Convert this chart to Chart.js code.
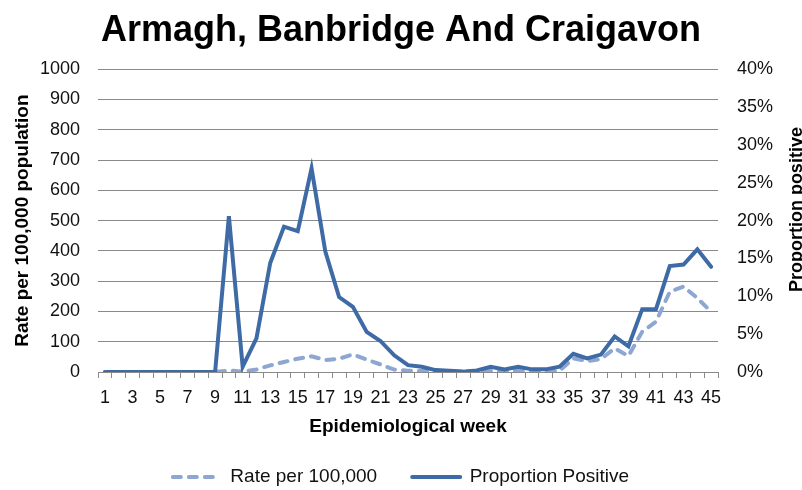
<!DOCTYPE html>
<html>
<head>
<meta charset="utf-8">
<script src="https://cdn.jsdelivr.net/npm/chart.js@4.4.1/dist/chart.umd.min.js"></script>
<style>
  html, body { margin: 0; padding: 0; background: #fff; overflow: hidden; }
  #wrap { width: 802px; height: 490px; }
</style>
</head>
<body>
<div id="wrap"><canvas id="weekChart" width="802" height="490"></canvas></div>
<script>
"use strict";

// chart data
var weeks = ['1','2','3','4','5','6','7','8','9','10','11','12','13','14','15','16','17','18','19','20','21','22','23',
	'24','25','26','27','28','29','30','31','32','33','34','35','36','37','38','39','40','41','42','43','44','45'];

var ratePer100k = [0, 0, 0, 0, 0, 0, 0, 0, 0, 5, 1, 8, 22, 33, 44, 52, 39, 44, 58, 41, 25, 8, 4,
	3, 2, 1, 1, 2, 4, 3, 4, 3, 3, 4, 45, 36, 43, 78, 53, 133, 166, 265, 282, 244, 199];

var proportionPositive = [0, 0, 0, 0, 0, 0, 0, 0, 0, 20.6, 0.7, 4.45, 14.4, 19.2, 18.6, 26.9, 15.9, 9.9, 8.6, 5.3, 4.1, 2.2, 0.9,
	0.7, 0.25, 0.15, 0.05, 0.2, 0.7, 0.35, 0.7, 0.35, 0.35, 0.7, 2.4, 1.8, 2.3, 4.7, 3.4, 8.3, 8.3, 14.0, 14.2, 16.2, 13.9];

var rateAxis = { min: 0, max: 1000, step: 100 };
var proportionAxis = { min: 0, max: 40, step: 5 };

var titleText = 'Armagh, Banbridge And Craigavon';
var rateLabel = 'Rate per 100,000';
var proportionLabel = 'Proportion Positive';

Chart.defaults.font.family = "'Liberation Sans', Arial, sans-serif";
Chart.defaults.color = '#111';

// right hand axis title reads bottom to top, which chart.js can't do for a right axis
var rightTitlePlugin = {
	id: 'rightTitle',
	afterDraw: function (chart) {
		var ctx = chart.ctx;
		var area = chart.chartArea;
		ctx.save();
		ctx.font = "bold 18px 'Liberation Sans', Arial, sans-serif";
		ctx.fillStyle = '#000';
		ctx.textAlign = 'center';
		ctx.textBaseline = 'alphabetic';
		ctx.translate(801.5, (area.top + area.bottom) / 2 - 11);
		ctx.rotate(-Math.PI / 2);
		ctx.fillText('Proportion positive', 0, 0);
		ctx.restore();
	}
};

// legend markers: keep the dataset dash pattern
function LegendLabels(chart) {
	var items = Chart.defaults.plugins.legend.labels.generateLabels(chart);
	items.forEach(function (item) {
		var ds = chart.data.datasets[item.datasetIndex];
		item.lineDash = ds.borderDash || [];
		item.lineCap = ds.borderCapStyle || 'butt';
		item.strokeStyle = ds.borderColor;
		item.lineWidth = ds.borderWidth;
	});
	return items;
}

const context = document.getElementById('weekChart');
const weekChart = new Chart(context, {
	type: 'line',
	data: {
		labels: weeks,
		datasets: [{
			label: rateLabel,
			data: ratePer100k,
			yAxisID: 'y',
			borderColor: '#8DA7D2',
			backgroundColor: '#8DA7D2',
			borderWidth: 4,
			borderDash: [8, 8],
			borderCapStyle: 'round',
			pointRadius: 0,
			tension: 0,
			order: 1
		}, {
			label: proportionLabel,
			data: proportionPositive,
			yAxisID: 'y1',
			borderColor: '#3E6BA6',
			backgroundColor: '#3E6BA6',
			borderWidth: 4,
			borderCapStyle: 'round',
			borderJoinStyle: 'miter',
			pointRadius: 0,
			tension: 0,
			order: 0
		}]
	},
	plugins: [rightTitlePlugin],
	options: {
		responsive: false,
		animation: false,
		layout: {
			padding: { top: 0, left: 0, right: 0, bottom: -6.5 }
		},
		plugins: {
			title: {
				display: true,
				text: titleText,
				color: '#000',
				font: { size: 36, weight: 'bold' },
				padding: { top: 9, bottom: 17 }
			},
			legend: {
				position: 'bottom',
				labels: {
					usePointStyle: true,
					pointStyle: 'line',
					pointStyleWidth: 48,
					padding: 35,
					color: '#111',
					font: { size: 19 },
					generateLabels: LegendLabels,
					sort: function (a, b) { return a.datasetIndex - b.datasetIndex; }
				}
			},
			tooltip: { enabled: false }
		},
		scales: {
			x: {
				offset: true,
				grid: {
					display: true,
					offset: true,
					drawOnChartArea: false,
					drawTicks: true,
					tickLength: 6,
					color: '#8a8a8a'
				},
				border: { display: true, color: '#8a8a8a' },
				ticks: {
					autoSkip: false,
					maxRotation: 0,
					padding: 9,
					font: { size: 18 },
					callback: function (value, index) {
						return index % 2 === 0 ? this.getLabelForValue(value) : '';
					}
				},
				title: {
					display: true,
					text: 'Epidemiological week',
					color: '#000',
					font: { size: 19, weight: 'bold' },
					padding: { top: 0, bottom: -6 }
				},
				afterFit: function (scale) { scale.height = 60.5; }
			},
			y: {
				position: 'left',
				min: rateAxis.min,
				max: rateAxis.max,
				grid: { color: '#8a8a8a', drawTicks: false },
				border: { display: false },
				ticks: {
					stepSize: rateAxis.step,
					padding: 18,
					font: { size: 18 },
					callback: function (value) { return String(value); }
				},
				title: {
					display: true,
					text: 'Rate per 100,000 population',
					color: '#000',
					font: { size: 19, weight: 'bold' },
					padding: { top: 11, bottom: 0 }
				},
				afterFit: function (scale) { scale.width = 98; }
			},
			y1: {
				position: 'right',
				min: proportionAxis.min,
				max: proportionAxis.max,
				grid: { display: false, drawTicks: false },
				border: { display: false },
				ticks: {
					stepSize: proportionAxis.step,
					padding: 19,
					font: { size: 18 },
					callback: function (value) { return value + '%'; }
				},
				afterFit: function (scale) { scale.width = 84; }
			}
		}
	}
});
</script>
</body>
</html>
